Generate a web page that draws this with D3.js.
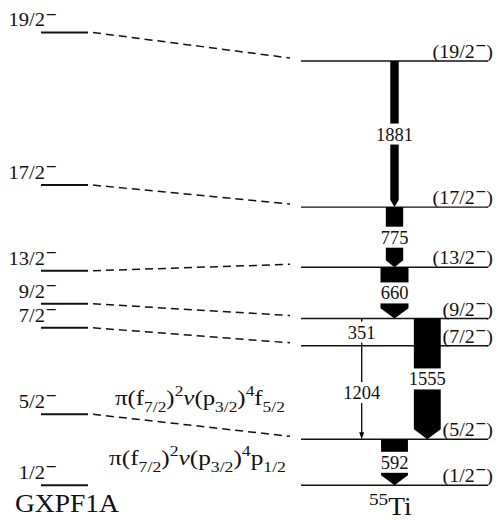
<!DOCTYPE html>
<html>
<head>
<meta charset="utf-8">
<script src="https://cdn.jsdelivr.net/npm/d3@7/dist/d3.min.js"></script>
<style>
  html, body { margin: 0; padding: 0; background: #fff; }
  svg { display: block; }
  text { font-family: "Liberation Serif", "Times New Roman", serif; fill: #111; }
</style>
</head>
<body>
<svg id="chart" width="497" height="522"></svg>
<script>
// Level spins (shared by the shell-model and experimental columns)
const spins = ["1/2", "5/2", "7/2", "9/2", "13/2", "17/2", "19/2"];
// Experimental excitation energies of 55Ti (keV)
const expEnergy = [0, 592, 1796, 2147, 2807, 3582, 5463];
// GXPF1A shell-model energies (keV)
const theoryEnergy = [0, 914, 2028, 2337, 2762, 3865, 5830];

// Gamma transitions
const gammaEnergy = [1881, 775, 660, 351, 1555, 1204, 592];
const gammaFrom = ["19/2", "17/2", "13/2", "9/2", "9/2", "7/2", "5/2"];
const gammaTo = ["17/2", "13/2", "9/2", "7/2", "5/2", "5/2", "1/2"];
const gammaIntensity = [30, 62, 100, 4, 96, 5, 96];

// Configuration labels
const configUpper = [["π(f"], ["7/2", "sub"], [")"], ["2", "sup"], ["ν", "it"], ["(p"], ["3/2", "sub"], [")"], ["4", "sup"], ["f"], ["5/2", "sub"]];
const configLower = [["π(f"], ["7/2", "sub"], [")"], ["2", "sup"], ["ν", "it"], ["(p"], ["3/2", "sub"], [")"], ["4", "sup"], ["p"], ["1/2", "sub"]];

// ---- layout ----
const svg = d3.select("#chart");
svg.append("rect").attr("width", 497).attr("height", 522).attr("fill", "#fff");

const y = d3.scaleLinear().domain([0, 5463]).range([485.3, 61]);
const widthScale = d3.scaleLinear().domain([0, 100]).range([0, 28]);

const th = { x0: 41, x1: 88 };
const ex = { x0: 301, x1: 488 };
const lanes = { main: 394.5, side: 427.3, thin: 361.7 };
const laneOf = { 1881: "main", 775: "main", 660: "main", 592: "main", 1555: "side", 351: "thin", 1204: "thin" };

const expBySpin = {};
spins.forEach((s, i) => expBySpin[s] = expEnergy[i]);

// text with sub/superscripts, optional horizontal stretch
function rich(x, yy, parts, opts) {
  const size = opts.size;
  const t = svg.append("text")
    .attr("transform", `translate(${x},${yy}) scale(${opts.sx || 1},1)`)
    .attr("text-anchor", opts.anchor || "start")
    .attr("font-size", size);
  let shift = 0;
  parts.forEach(([str, kind, fam]) => {
    let target = 0, fs = size;
    if (kind === "sub") { target = 0.3 * size; fs = 0.7 * size; }
    if (kind === "sup") { target = -0.42 * size; fs = 0.7 * size; }
    const sp = t.append("tspan").attr("dy", target - shift).attr("font-size", fs).text(str);
    if (kind === "it") sp.attr("font-style", "italic");
    if (fam) sp.style("font-family", fam);
    shift = target;
  });
  return t;
}

// shell-model levels
spins.forEach((s, i) => {
  const yy = y(theoryEnergy[i]);
  svg.append("line").attr("x1", th.x0).attr("x2", th.x1).attr("y1", yy).attr("y2", yy)
    .attr("stroke", "#111").attr("stroke-width", 2);
  rich(57, yy - 6, [[s], ["−", "sup", "DejaVu Serif"]], { size: 19, anchor: "end", sx: 1.08 });
});

// experimental levels
spins.forEach((s, i) => {
  const yy = y(expEnergy[i]);
  svg.append("line").attr("x1", ex.x0).attr("x2", ex.x1).attr("y1", yy).attr("y2", yy)
    .attr("stroke", "#111").attr("stroke-width", 1.4);
  rich(493, yy - 3, [["(" + s], ["−", "sup", "DejaVu Serif"], [")"]], { size: 19, anchor: "end", sx: 1.05 });
});

// dashed correspondence lines (excited states only)
spins.forEach((s, i) => {
  if (expEnergy[i] === 0) return;
  svg.append("line")
    .attr("x1", th.x1 + 5).attr("y1", y(theoryEnergy[i]))
    .attr("x2", ex.x0 - 11).attr("y2", y(expEnergy[i]) - 3)
    .attr("stroke", "#111").attr("stroke-width", 1.5).attr("stroke-dasharray", "8,5");
});

// gamma transitions
gammaEnergy.forEach((eg, i) => {
  const eTo = expBySpin[gammaTo[i]];
  const y0 = y(eTo + eg), y1 = y(eTo);
  const cx = lanes[laneOf[eg]];
  const w = widthScale(gammaIntensity[i]);
  const mid = (y0 + y1) / 2;
  if (w > 4) {
    const h = Math.max(7, 0.37 * w);
    svg.append("path")
      .attr("d", `M${cx - w / 2},${y0}L${cx + w / 2},${y0}L${cx + w / 2},${y1 - h}L${cx},${y1}L${cx - w / 2},${y1 - h}Z`)
      .attr("fill", "#000");
  } else {
    const withHead = eg !== 351;
    svg.append("line").attr("x1", cx).attr("x2", cx).attr("y1", y0).attr("y2", withHead ? y1 - 6 : y1)
      .attr("stroke", "#000").attr("stroke-width", 1.3);
    if (withHead) {
      svg.append("path").attr("d", `M${cx - 2.5},${y1 - 7}L${cx + 2.5},${y1 - 7}L${cx},${y1}Z`).attr("fill", "#000");
    }
  }
  // white gap behind the energy label
  const lw = String(eg).length * 9.8 + 4;
  svg.append("rect").attr("x", cx - lw / 2).attr("y", mid - 10.5).attr("width", lw).attr("height", 21).attr("fill", "#fff");
  svg.append("text").attr("x", cx).attr("y", mid + 6.5).attr("text-anchor", "middle").attr("font-size", 18.5).text(eg);
});

// configuration labels
rich(115, y(expBySpin["5/2"]) - 34, configUpper, { size: 22, sx: 1.13 });
rich(109, y(0) - 20, configLower, { size: 22, sx: 1.15 });

// column titles
rich(15, 512, [["GXPF1A"]], { size: 25, sx: 1.1 });
rich(369, 515, [["55", "sup"], ["Ti"]], { size: 25, sx: 1.1 });
</script>
</body>
</html>
